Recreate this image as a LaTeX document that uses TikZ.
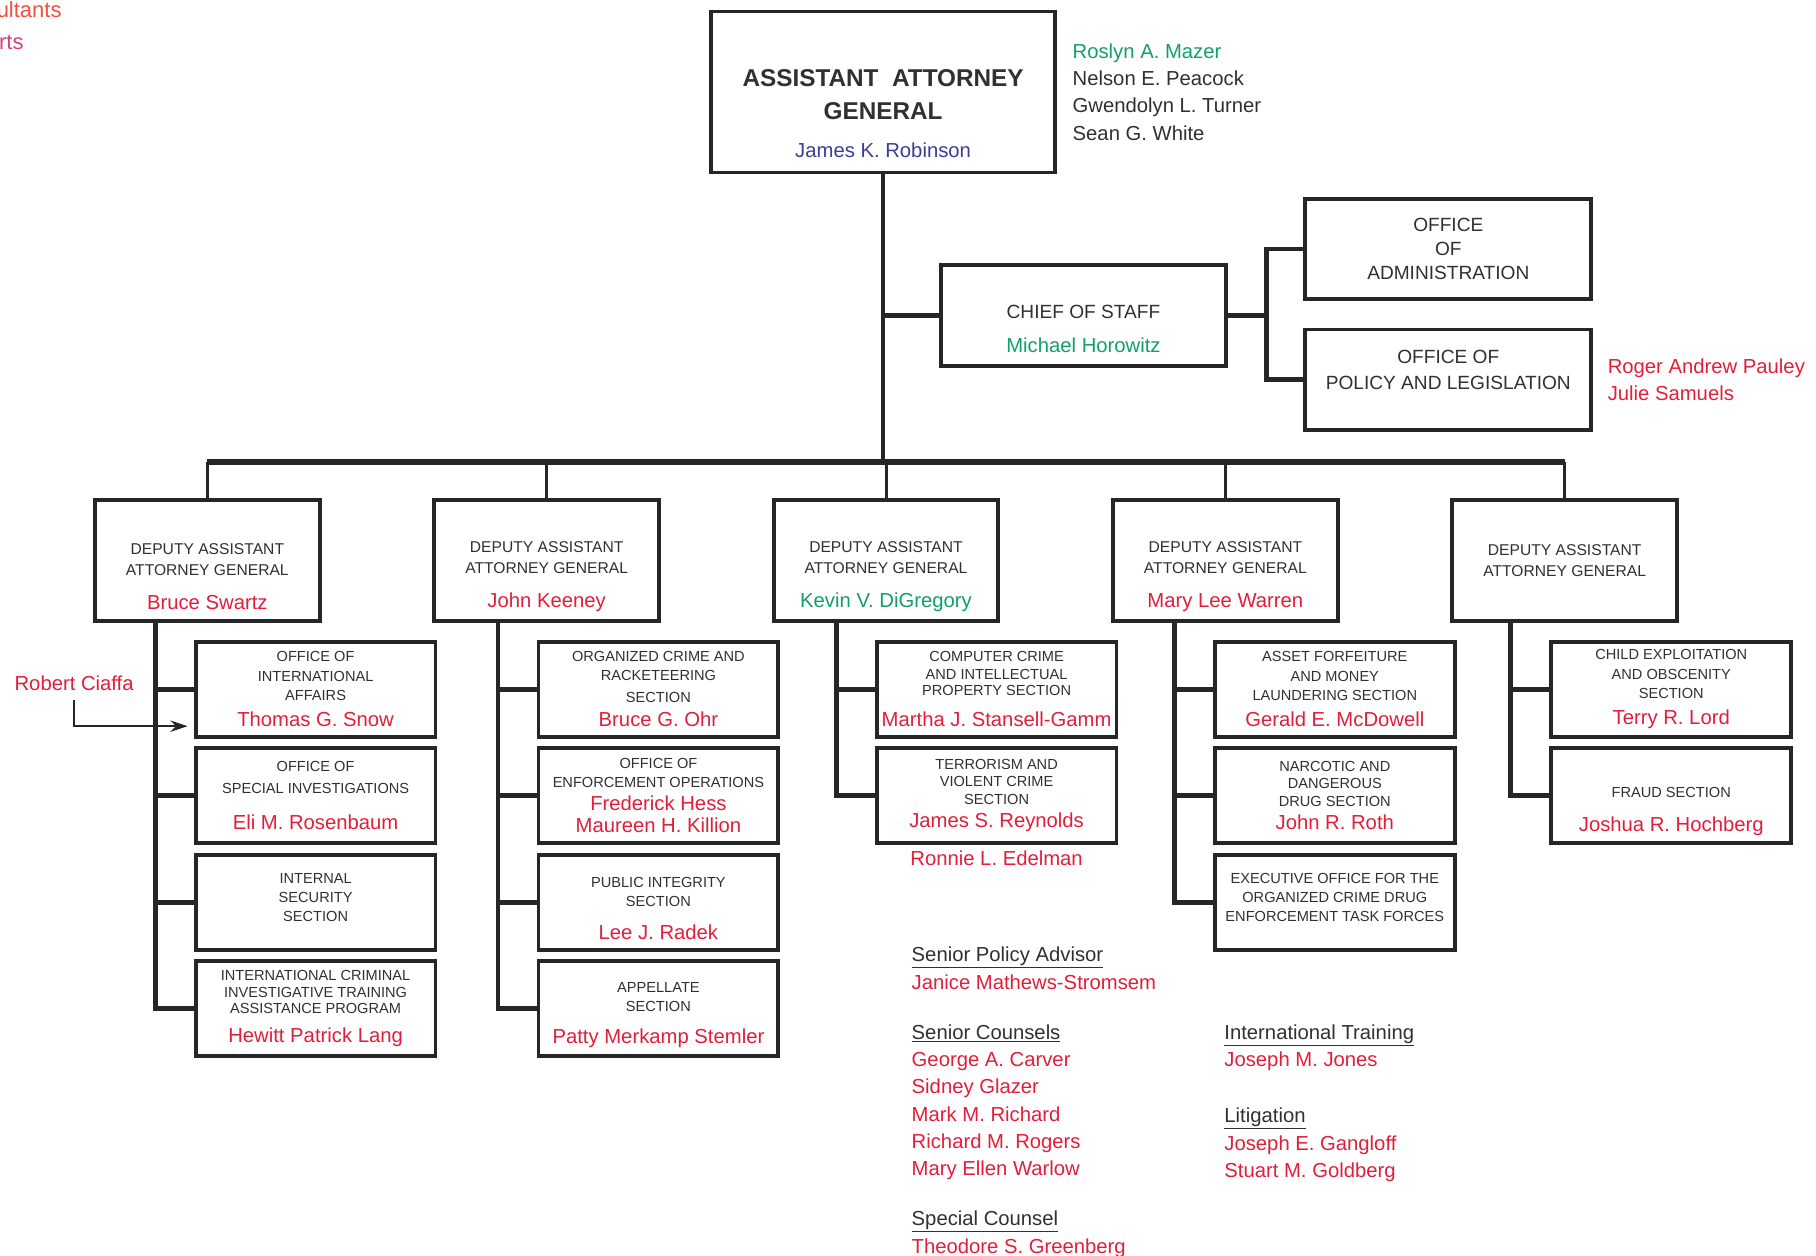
\documentclass[tikz,border=0pt]{standalone}
\usepackage{fontspec}
\setmainfont{Liberation Sans}
\usepackage{xcolor}
\usetikzlibrary{arrows.meta, positioning}

\definecolor{lineGray}{RGB}{38,38,38}
\definecolor{textGray}{RGB}{48,48,48}
\definecolor{nameRed}{RGB}{226,30,58}
\definecolor{nameGreen}{RGB}{18,160,104}
\definecolor{nameBlue}{RGB}{58,62,150}
\definecolor{noteOrange}{RGB}{238,82,62}
\definecolor{noteMagenta}{RGB}{214,62,132}

% names printed under a heading
\newcommand{\nm}[2][nameRed]{{\color{#1}\mdseries\fontsize{17.5}{21}\selectfont #2}}
\newcommand{\heading}[1]{\textcolor{textGray}{\underline{#1}}}

\tikzset{
    box/.style={rectangle, draw=lineGray, line width=3.3pt, outer sep=0pt, fill=white, text=textGray, align=center, inner sep=2pt, font=\fontsize{12.6}{16.5}\selectfont},
    topbox/.style={box, minimum width=297pt, minimum height=139pt, font=\bfseries\fontsize{21}{29}\selectfont},
    staffbox/.style={box, minimum width=246pt, minimum height=87pt, font=\fontsize{16.5}{21}\selectfont},
    deputy/.style={box, minimum width=194pt, minimum height=104pt, font=\fontsize{13.5}{18}\selectfont},
    section/.style={box, minimum width=207pt, minimum height=82pt},
    trunk/.style={draw=lineGray, line width=3.5pt},
    bus/.style={draw=lineGray, line width=5pt},
    drop/.style={draw=lineGray, line width=2.6pt},
    link/.style={draw=lineGray, line width=4.2pt},
    names/.style={align=left, inner sep=0pt, text=textGray, font=\fontsize{17.5}{23.6}\selectfont},
    arrow/.style={draw=lineGray, line width=1.4pt, -{Stealth[length=15pt, width=10pt]}}
}

\begin{document}
\begin{tikzpicture}[x=1pt, y=-1pt, node distance=10pt]
    \useasboundingbox (0,0) rectangle (1568,1084);

    % Front office
    \node[topbox] (aag) at (762.5,79.5) {\rule{0pt}{52pt}ASSISTANT~~ATTORNEY\\GENERAL\\[4pt]\nm[nameBlue]{James K. Robinson}};
    \node[names, right=15pt of aag] (aagstaff) {\textcolor{nameGreen}{Roslyn A. Mazer}\\Nelson E. Peacock\\Gwendolyn L. Turner\\Sean G. White};
    \node[staffbox] (cos) at (935.5,272.5) {\rule{0pt}{34pt}CHIEF OF STAFF\\[8.5pt]\nm[nameGreen]{Michael Horowitz}};
    \node[staffbox, minimum width=247pt] (admin) at (1250.5,215) {OFFICE\\OF\\ADMINISTRATION};
    \node[staffbox, minimum width=247pt, below=26pt of admin] (opl) {OFFICE OF\\[1pt]POLICY AND LEGISLATION\rule[-17pt]{0pt}{17pt}};
    \node[names, text=nameRed, right=14pt of opl] (oplstaff) {Roger Andrew Pauley\\Julie Samuels};

    % Deputies
    \node[deputy] (dep1) at (179,484) {\rule{0pt}{37pt}DEPUTY ASSISTANT\\ATTORNEY GENERAL\\[11.4pt]\nm{Bruce Swartz}};
    \node[deputy, right=99pt of dep1] (dep2) {\rule{0pt}{37pt}DEPUTY ASSISTANT\\ATTORNEY GENERAL\\[11.4pt]\nm{John Keeney}};
    \node[deputy, right=99pt of dep2] (dep3) {\rule{0pt}{37pt}DEPUTY ASSISTANT\\ATTORNEY GENERAL\\[11.4pt]\nm[nameGreen]{Kevin V. DiGregory}};
    \node[deputy, right=99pt of dep3] (dep4) {\rule{0pt}{37pt}DEPUTY ASSISTANT\\ATTORNEY GENERAL\\[11.4pt]\nm{Mary Lee Warren}};
    \node[deputy, right=99pt of dep4] (dep5) {DEPUTY ASSISTANT\\ATTORNEY GENERAL};

    % Sections
    \node[section] (sec1a) at (272.5,595) {OFFICE OF\\INTERNATIONAL\\AFFAIRS\\[6pt]\nm{Thomas G. Snow}};
    \node[section, below=of sec1a] (sec1b) {OFFICE OF\\[2.5pt]SPECIAL INVESTIGATIONS\\[15pt]\nm{Eli M. Rosenbaum}};
    \node[section, below=of sec1b] (sec1c) {INTERNAL\\SECURITY\\SECTION\rule[-8pt]{0pt}{8pt}};
    \node[section, below=of sec1c] (sec1d) {INTERNATIONAL CRIMINAL\\[-2.5pt]INVESTIGATIVE TRAINING\\[-2.5pt]ASSISTANCE PROGRAM\\[9pt]\nm{Hewitt Patrick Lang}};

    \node[section] (sec2a) at (568.5,595) {ORGANIZED CRIME AND\\RACKETEERING\\[2.5pt]SECTION\\[4pt]\nm{Bruce G. Ohr}};
    \node[section, below=of sec2a] (sec2b) {OFFICE OF\\ENFORCEMENT OPERATIONS\\[3pt]\nm{Frederick Hess}\\[2.5pt]\nm{Maureen H. Killion}};
    \node[section, below=of sec2b] (sec2c) {\rule{0pt}{19pt}PUBLIC INTEGRITY\\SECTION\\[12pt]\nm{Lee J. Radek}};
    \node[section, below=of sec2c] (sec2d) {\rule{0pt}{19pt}APPELLATE\\SECTION\\[11pt]\nm{Patty Merkamp Stemler}};

    \node[section] (sec3a) at (860.5,595) {COMPUTER CRIME\\[-1.5pt]AND INTELLECTUAL\\[-2.5pt]PROPERTY SECTION\\[10pt]\nm{Martha J. Stansell-Gamm}};
    \node[section, below=of sec3a] (sec3b) {TERRORISM AND\\[-1.5pt]VIOLENT CRIME\\[-1.5pt]SECTION\\[4pt]\nm{James S. Reynolds}};
    \node[names, text=nameRed, below=6pt of sec3b] (edelman) {Ronnie L. Edelman};

    \node[section] (sec4a) at (1152.5,595) {ASSET FORFEITURE\\AND MONEY\\LAUNDERING SECTION\\[6pt]\nm{Gerald E. McDowell}};
    \node[section, below=of sec4a] (sec4b) {NARCOTIC AND\\[-1.5pt]DANGEROUS\\[-1.5pt]DRUG SECTION\\[4pt]\nm{John R. Roth}};
    \node[section, below=of sec4b] (sec4c) {EXECUTIVE OFFICE FOR THE\\ORGANIZED CRIME DRUG\\ENFORCEMENT TASK FORCES\rule[-8pt]{0pt}{8pt}};

    \node[section] (sec5a) at (1443,595) {CHILD EXPLOITATION\\AND OBSCENITY\\SECTION\\[6pt]\nm{Terry R. Lord}};
    \node[section, below=of sec5a] (sec5b) {\rule{0pt}{36pt}FRAUD SECTION\\[13pt]\nm{Joshua R. Hochberg}};

    % Side notes
    \node[names, text=nameRed] (ciaffa) at (64,590) {Robert Ciaffa};
    \coordinate (ciaffatip) at ([shift={(-7pt,-32pt)}]sec1a.west);
    \node[names, anchor=west, text=noteOrange, font=\fontsize{19}{24}\selectfont] (consult) at (-3,8) {ultants};
    \node[names, anchor=west, text=noteMagenta, font=\fontsize{19}{24}\selectfont] (experts) at (-1,37) {rts};

    \node[names, text=nameRed, anchor=north west] (policy) at (787,817.5) {\heading{Senior Policy Advisor}\\Janice Mathews-Stromsem};
    \node[names, text=nameRed, anchor=north west] (counsels) at (787,884.5) {\heading{Senior Counsels}\\George A. Carver\\Sidney Glazer\\Mark M. Richard\\Richard M. Rogers\\Mary Ellen Warlow};
    \node[names, text=nameRed, anchor=north west] (special) at (787,1045.5) {\heading{Special Counsel}\\Theodore S. Greenberg};
    \node[names, text=nameRed, anchor=north west] (training) at (1057,884.5) {\heading{International Training}\\Joseph M. Jones};
    \node[names, text=nameRed, anchor=north west] (litigation) at (1057,956.5) {\heading{Litigation}\\Joseph E. Gangloff\\Stuart M. Goldberg};

    % Lines
    \coordinate (hub) at (762.5,399);
    \draw[trunk] (aag.south) -- (hub);
    \draw[link] (cos.west -| aag.south) -- (cos.west);
    \coordinate (fork) at ([xshift=35pt]cos.east);
    \draw[link] (cos.east) -- (fork);
    \draw[link] (admin.west) -| (fork) |- (opl.west);
    \draw[bus] (dep1.north |- hub) -- (dep5.north |- hub);
    \foreach \d in {dep1,dep2,dep3,dep4,dep5}
        \draw[drop] (\d.north |- hub) -- (\d.north);

    \foreach \c/\last in {1/d,2/d,3/b,4/c,5/b} {
        \coordinate (sp\c) at ([xshift=-35pt]sec\c a.west |- dep\c.south);
        \draw[link] (sp\c) |- (sec\c\last.west);
    }
    \foreach \c/\s in {1/a,1/b,1/c,2/a,2/b,2/c,3/a,4/a,4/b,5/a}
        \draw[link] (sec\c\s.west -| sp\c) -- (sec\c\s.west);

    \draw[arrow] ([yshift=-8pt]ciaffa.south) |- (ciaffatip);
\end{tikzpicture}
\end{document}
